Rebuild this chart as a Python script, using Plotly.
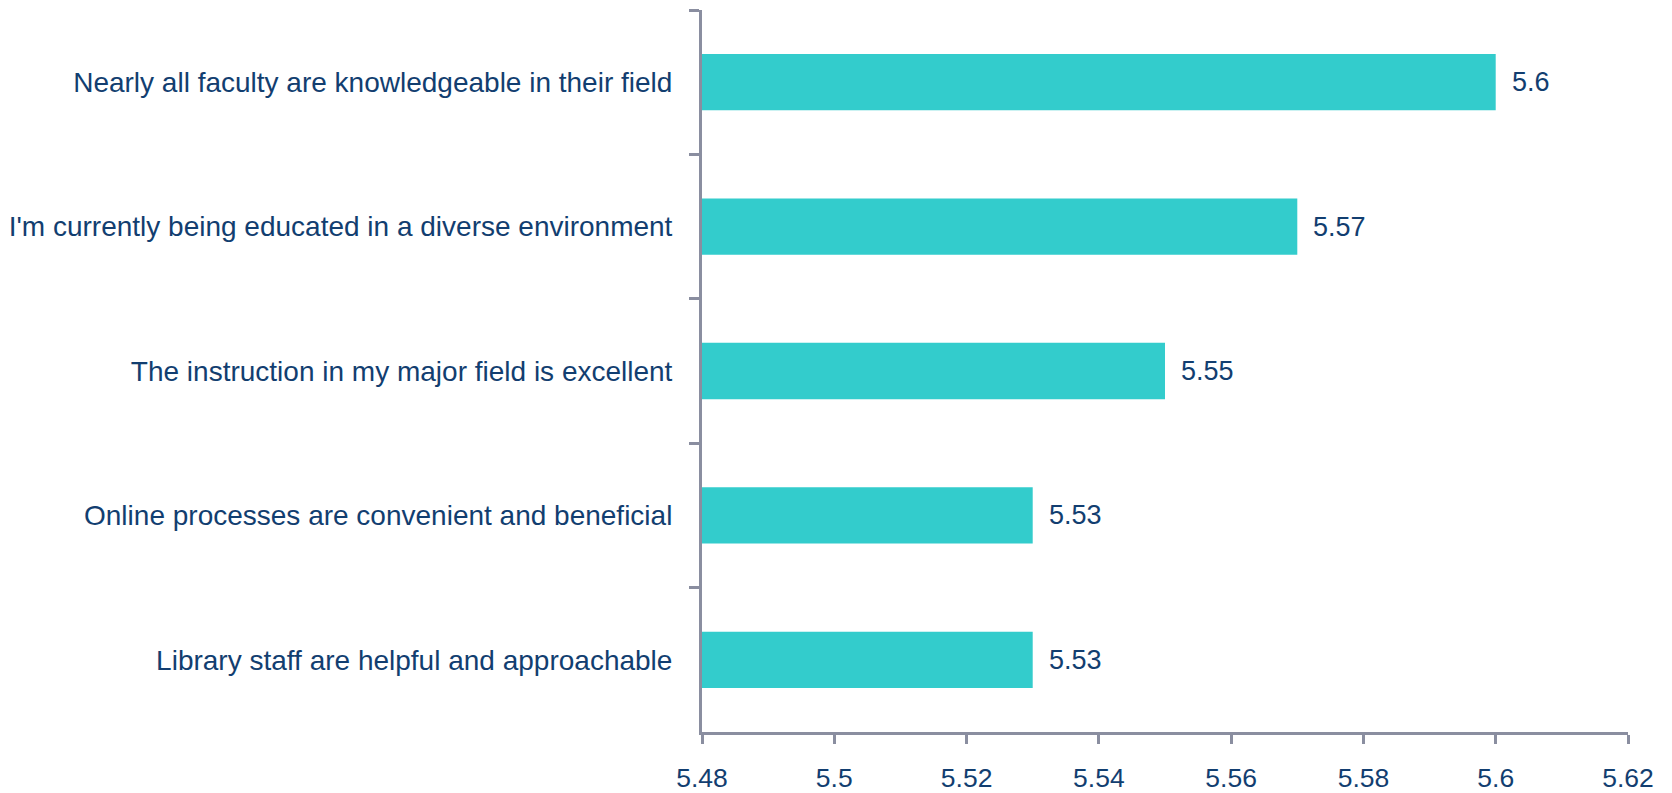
import plotly.graph_objects as go

categories = [
    "Nearly all faculty are knowledgeable in their field",
    "I'm currently being educated in a diverse environment",
    "The instruction in my major field is excellent",
    "Online processes are convenient and beneficial",
    "Library staff are helpful and approachable",
]
values = [5.60, 5.57, 5.55, 5.53, 5.53]
value_labels = ["5.6", "5.57", "5.55", "5.53", "5.53"]
x_ticks = [5.48, 5.50, 5.52, 5.54, 5.56, 5.58, 5.60, 5.62]
x_tick_labels = ["5.48", "5.5", "5.52", "5.54", "5.56", "5.58", "5.6", "5.62"]

TEXT = "#123E70"
AXIS = "#8A8EA0"
BAR = "#33CCCC"
FONT = "Liberation Sans, Arial, sans-serif"

fig = go.Figure()
fig.add_trace(go.Bar(
    x=values, y=categories, orientation="h",
    marker=dict(color=BAR, line=dict(width=0)),
    hoverinfo="x+y",
))

for v, c, t in zip(values, categories, value_labels):
    fig.add_annotation(x=v, y=c, text=t, showarrow=False, xanchor="left",
                       xshift=14, font=dict(size=27, color=TEXT, family=FONT))

fig.update_layout(
    width=1672, height=793,
    margin=dict(l=694, r=52, t=2, b=69),
    paper_bgcolor="white", plot_bgcolor="white",
    bargap=0.61,
    showlegend=False,
    font=dict(family=FONT, color=TEXT, size=27),
)
fig.update_xaxes(
    range=[5.48, 5.62], tickvals=x_ticks, ticktext=x_tick_labels,
    showgrid=False, zeroline=False,
    showline=True, linecolor=AXIS, linewidth=3,
    ticks="outside", ticklen=9, tickwidth=3, tickcolor=AXIS,
    tickfont=dict(size=26.5, color=TEXT, family=FONT),
    ticklabelstandoff=11,
)
fig.update_yaxes(
    categoryorder="array", categoryarray=categories, autorange="reversed",
    showgrid=False, zeroline=False,
    showline=True, linecolor=AXIS, linewidth=3,
    ticks="outside", ticklen=10, tickwidth=3, tickcolor=AXIS,
    tickson="boundaries",
    tickfont=dict(size=28, color=TEXT, family=FONT),
    ticklabelstandoff=21,
)

fig.write_html("out.html")
